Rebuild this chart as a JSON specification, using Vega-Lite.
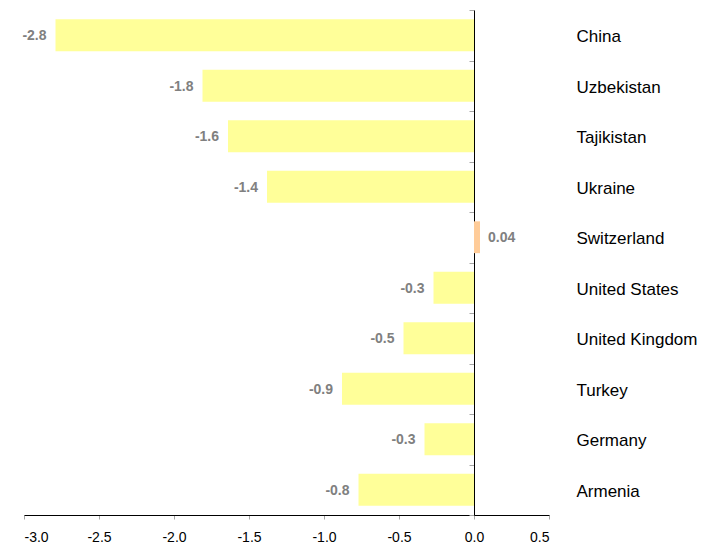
{
  "$schema": "https://vega.github.io/schema/vega-lite/v6.json",
  "width": 525,
  "height": 505,
  "autosize": {"type": "none"},
  "padding": {"left": 24, "top": 10, "right": 154, "bottom": 32},
  "background": "white",
  "config": {
    "view": {"stroke": null},
    "font": "Liberation Sans"
  },
  "data": {
    "values": [
      {"country": "China", "value": -2.79},
      {"country": "Uzbekistan", "value": -1.81},
      {"country": "Tajikistan", "value": -1.64},
      {"country": "Ukraine", "value": -1.38},
      {"country": "Switzerland", "value": 0.04},
      {"country": "United States", "value": -0.27},
      {"country": "United Kingdom", "value": -0.47},
      {"country": "Turkey", "value": -0.88},
      {"country": "Germany", "value": -0.33},
      {"country": "Armenia", "value": -0.77}
    ]
  },
  "transform": [
    {"calculate": "replace(abs(datum.value) < 0.1 ? format(datum.value, '.2f') : format(datum.value, '.1f'), '\u2212', '-')", "as": "label"}
  ],
  "layer": [
    {
      "mark": {"type": "bar", "height": {"band": 0.63}},
      "encoding": {
        "x": {
          "field": "value",
          "type": "quantitative",
          "scale": {"domain": [-3, 0.5], "nice": false, "zero": false},
          "axis": {
            "title": null,
            "values": [-3, -2.5, -2, -1.5, -1, -0.5, 0, 0.5],
            "format": ".1f",
            "labelExpr": "replace(datum.label, '\u2212', '-')",
            "grid": false,
            "domainColor": "#000000",
            "domainWidth": 1,
            "tickColor": "#a6a6a6",
            "tickSize": 4,
            "labelFontSize": 14,
            "labelColor": "#000000",
            "labelPadding": 11,
            "labelFont": "Liberation Sans"
          }
        },
        "y": {
          "field": "country",
          "type": "nominal",
          "sort": null,
          "scale": {"paddingInner": 0, "paddingOuter": 0},
          "axis": {
            "orient": "left",
            "title": null,
            "offset": -450,
            "labels": false,
            "domainColor": "#000000",
            "domainWidth": 1,
            "tickColor": "#a6a6a6",
            "tickSize": 5,
            "tickBand": "extent",
            "grid": false
          }
        },
        "color": {
          "condition": {"test": "datum.value > 0", "value": "#ffcc99"},
          "value": "#ffff99"
        }
      }
    },
    {
      "transform": [{"filter": "datum.value < 0"}],
      "mark": {"type": "text", "align": "right", "baseline": "middle", "dx": -9, "dy": 1, "fontSize": 14, "fontWeight": "bold", "color": "#808080"},
      "encoding": {
        "x": {"field": "value", "type": "quantitative"},
        "y": {"field": "country", "type": "nominal", "sort": null, "axis": null},
        "text": {"field": "label"}
      }
    },
    {
      "transform": [{"filter": "datum.value >= 0"}],
      "mark": {"type": "text", "align": "left", "baseline": "middle", "dx": 8, "dy": 1, "fontSize": 14, "fontWeight": "bold", "color": "#808080"},
      "encoding": {
        "x": {"field": "value", "type": "quantitative"},
        "y": {"field": "country", "type": "nominal", "sort": null, "axis": null},
        "text": {"field": "label"}
      }
    },
    {
      "mark": {"type": "text", "opacity": 0},
      "encoding": {
        "y": {
          "field": "country",
          "type": "nominal",
          "sort": null,
          "axis": {
            "orient": "right",
            "title": null,
            "domain": false,
            "ticks": false,
            "labelPadding": 27,
            "labelAlign": "left",
            "labelFontSize": 17,
            "labelColor": "#000000",
            "labelOffset": 2,
            "labelFont": "Liberation Sans",
            "labelLimit": 300
          }
        },
        "text": {"field": "label"}
      }
    }
  ],
  "resolve": {"axis": {"y": "independent"}}
}
